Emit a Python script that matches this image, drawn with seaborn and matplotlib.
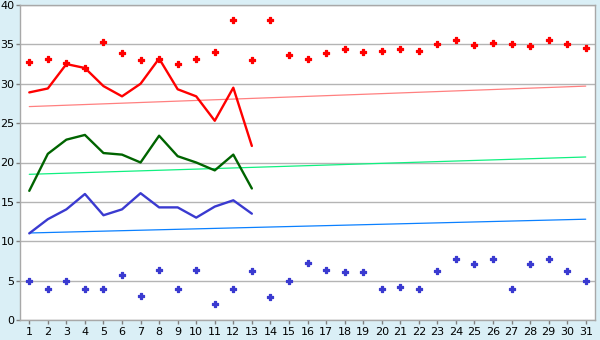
import matplotlib
matplotlib.use("Agg")
import matplotlib.pyplot as plt
import seaborn as sns
import pandas as pd

days = list(range(1, 32))
high_pts = [32.7, 33.2, 32.6, 32.0, 35.3, 33.9, 33.0, 33.2, 32.5, 33.1,
            34.0, 38.05, 33.0, 38.05, 33.6, 33.2, 33.9, 34.4, 34.0, 34.1,
            34.4, 34.2, 35.1, 35.5, 34.9, 35.2, 35.0, 34.75, 35.6, 35.0, 34.6]
low_pts = [5.0, 4.0, 5.0, 3.9, 3.9, 5.7, 3.0, 6.4, 3.9, 6.4,
           2.0, 3.9, 6.2, 2.9, 5.0, 7.2, 6.4, 6.05, 6.05, 3.9,
           4.15, 3.9, 6.2, 7.8, 7.1, 7.8, 4.0, 7.1, 7.8, 6.2, 5.0]
line_days = list(range(1, 14))
max_line = [28.9, 29.4, 32.5, 32.0, 29.7, 28.4, 30.0, 33.2, 29.3, 28.4, 25.3, 29.5, 22.1]
mean_line = [16.4, 21.1, 22.9, 23.5, 21.2, 21.0, 20.0, 23.4, 20.8, 20.0, 19.0, 21.0, 16.7]
min_line = [11.0, 12.8, 14.05, 16.0, 13.3, 14.05, 16.1, 14.3, 14.3, 13.0, 14.4, 15.2, 13.5]
trend_days = [1, 31]
max_trend = [27.1, 29.7]
mean_trend = [18.5, 20.7]
min_trend = [11.05, 12.8]
y_ticks = [0, 5, 10, 15, 20, 25, 30, 35, 40]

sns.set_style("white")
plt.rcParams['font.family'] = ['DejaVu Sans']

fig = plt.figure(figsize=(6, 3.4), dpi=100, facecolor='#daeff6')
ax = fig.add_axes([20/600, 20/340, 575/600, 315/340])
ax.set_facecolor('white')

for yv in y_ticks:
    ax.axhline(yv, color='#b4b4b4', lw=1.0, zorder=0)

sns.lineplot(x=trend_days, y=max_trend, ax=ax, color='#ff8080', lw=0.9, zorder=2)
sns.lineplot(x=trend_days, y=mean_trend, ax=ax, color='#10f080', lw=0.9, zorder=2)
sns.lineplot(x=trend_days, y=min_trend, ax=ax, color='#0a80ff', lw=0.9, zorder=2)

sns.lineplot(x=line_days, y=max_line, ax=ax, color='#ff0000', lw=1.7, zorder=3)
sns.lineplot(x=line_days, y=mean_line, ax=ax, color='#006400', lw=1.7, zorder=3)
sns.lineplot(x=line_days, y=min_line, ax=ax, color='#3a3ad0', lw=1.7, zorder=3)

sns.scatterplot(x=days, y=high_pts, ax=ax, color='#ff0000', marker='P', s=14,
                linewidth=0.9, edgecolor='#ff0000', zorder=4)
sns.scatterplot(x=days, y=low_pts, ax=ax, color='#3a3ad0', marker='P', s=14,
                linewidth=0.9, edgecolor='#3a3ad0', zorder=4)

ax.set_xlim(0.5, 31.5)
ax.set_ylim(0, 40)
ax.set_xticks(days)
ax.set_yticks(y_ticks)
ax.tick_params(axis='both', which='both', direction='out', length=3, width=1,
               color='#808080', labelsize=8, pad=1, labelcolor='black')
ax.tick_params(axis='x', bottom=True, pad=2)
ax.tick_params(axis='y', left=True)
for s in ['left', 'bottom', 'right', 'top']:
    ax.spines[s].set_color('#a8a8a8')
    ax.spines[s].set_linewidth(1.0)
ax.set_xlabel('')
ax.set_ylabel('')

fig.savefig('out.png', dpi=100, facecolor=fig.get_facecolor())
